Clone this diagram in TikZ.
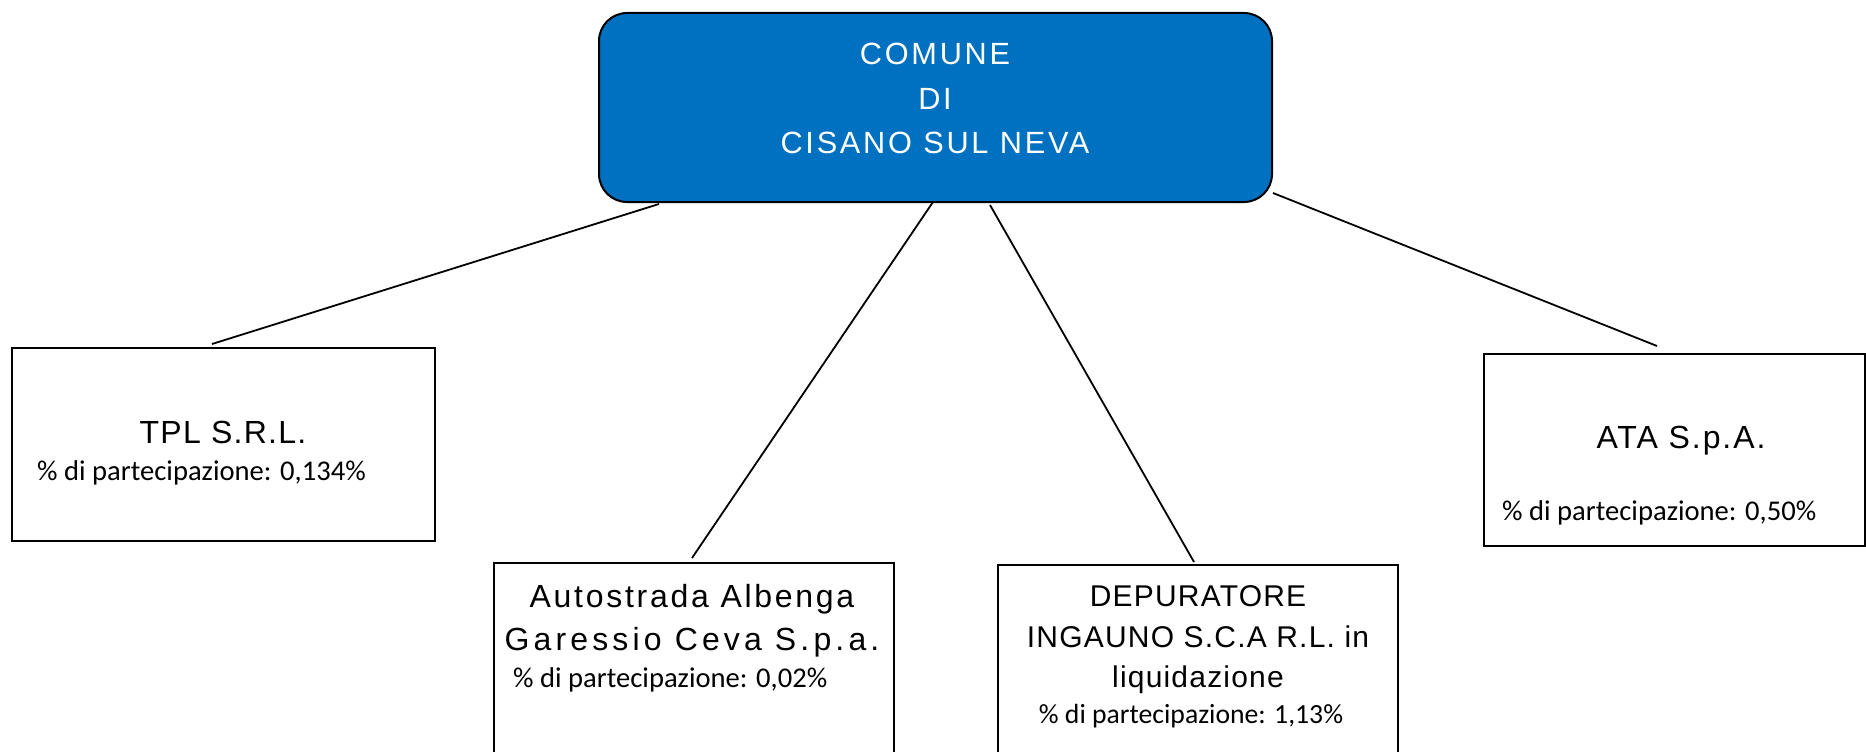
\documentclass[tikz,border=0pt]{standalone}
\usepackage{fontspec}
\setmainfont{Liberation Sans}
\newfontfamily\calfont{Carlito}
\definecolor{comblue}{HTML}{0070C0}
\tikzset{
  x=1pt, y=-1pt,
  orgbox/.style={draw=black, line width=2pt, fill=white, inner sep=0pt, anchor=north west},
  topbox/.style={draw=black, line width=2pt, fill=comblue, rounded corners=28pt, inner sep=0pt, anchor=north west},
  link/.style={draw=black, line width=1.8pt},
  titletext/.style={text=white, inner sep=0pt, align=center, anchor=north,
    font=\fontsize{30.7}{44.5}\selectfont\addfontfeatures{LetterSpace=9}},
  nametext/.style={text=black, inner sep=0pt, align=center},
  pcttext/.style={text=black, inner sep=0pt, anchor=base west,
    font=\calfont\fontsize{28.6}{34}\selectfont},
}
\begin{document}
\begin{tikzpicture}
\useasboundingbox (0,0) rectangle (1866,752);
\clip (0,0) rectangle (1866,752);

% boxes
\node[topbox, minimum width=673pt, minimum height=189pt] (comune) at (598,12) {};
\node[orgbox, minimum width=423pt, minimum height=193pt] (tpl) at (11,347) {};
\node[orgbox, minimum width=400pt, minimum height=240pt] (auto) at (493,562) {};
\node[orgbox, minimum width=400pt, minimum height=240pt] (depu) at (997,564) {};
\node[orgbox, minimum width=381pt, minimum height=192pt] (ata) at (1483,353) {};

% texts
\node[titletext] (comtxt) at (935,43) {COMUNE\\DI\\CISANO SUL NEVA};

\node[nametext, anchor=base, font=\fontsize{32}{38}\selectfont\addfontfeatures{LetterSpace=4}] (tplname) at (223,443) {TPL S.R.L.};
\node[pcttext] (tplpct) at (37,480) {\% di partecipazione: 0,134\%};

\node[nametext, anchor=north, font=\fontsize{32}{43}\selectfont\addfontfeatures{LetterSpace=8.5}] (autoname) at (692,584) {Autostrada Albenga\\{\addfontfeatures{LetterSpace=13}Garessio Ceva S.p.a.}};
\node[pcttext] (autopct) at (513,687) {\% di partecipazione: 0,02\%};

\node[nametext, anchor=north, font=\fontsize{30}{40.5}\selectfont\addfontfeatures{LetterSpace=4}] (depuname) at (1198,585.5) {DEPURATORE\\INGAUNO S.C.A R.L. in\\liquidazione};
\node[pcttext, anchor=base, font=\calfont\fontsize{27.7}{34}\selectfont] (depupct) at (1191,723) {\% di partecipazione: 1,13\%};

\node[nametext, anchor=base, font=\fontsize{32}{38}\selectfont\addfontfeatures{LetterSpace=6}] (ataname) at (1681,448) {ATA S.p.A.};
\node[pcttext] (atapct) at (1502,520) {\% di partecipazione: 0,50\%};

% connector end points (lines stop just short of the boxes)
\coordinate (c1s) at (659,204);
\coordinate (c1e) at (212,344);
\coordinate (c2s) at (933,202);
\coordinate (c2e) at (692,558);
\coordinate (c3s) at (990,205);
\coordinate (c3e) at (1194,562);
\coordinate (c4s) at (1273,193);
\coordinate (c4e) at (1657,346);

\draw[link] (c1s) -- (c1e);
\draw[link] (c2s) -- (c2e);
\draw[link] (c3s) -- (c3e);
\draw[link] (c4s) -- (c4e);
\end{tikzpicture}
\end{document}
